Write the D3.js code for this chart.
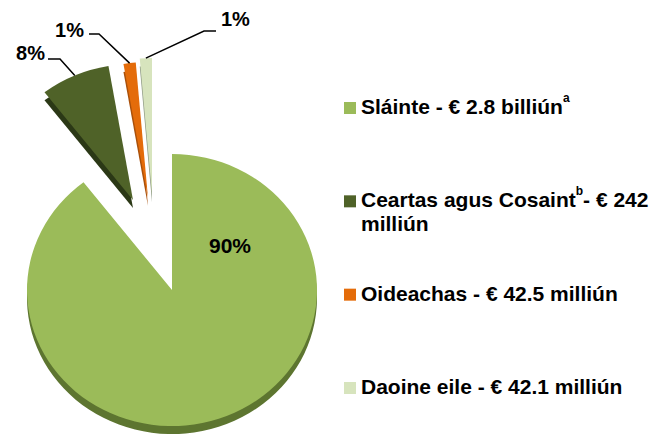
<!DOCTYPE html>
<html>
<head>
<meta charset="utf-8">
<script src="https://cdn.jsdelivr.net/npm/d3@7"></script>
<style>
  body { margin: 0; background: #fff; }
  text { font-family: "Liberation Sans", Arial, sans-serif; font-weight: bold; fill: #000; }
</style>
</head>
<body>
<div id="chart-area"></div>
<script>
// data (amounts in € million)
var categories = ["Sláinte", "Ceartas agus Cosaint", "Oideachas", "Daoine eile"];
var amounts = [2800, 242, 42.5, 42.1];
// legend text, split round the footnote marks
var legendBefore = ["Sláinte - € 2.8 billiún", "Ceartas agus Cosaint", "Oideachas - € 42.5 milliún", "Daoine eile - € 42.1 milliún"];
var legendSup = ["a", "b", "", ""];
var legendAfter = ["", "- € 242", "", ""];
var legendWrap = ["", "milliún", "", ""];

var colors = ["#9bbb59", "#4f6228", "#e46c0a", "#d7e4bd"];
var sideColors = ["#5d7530", "#2b3816", "#a9500a", "#8f9a84"];

var width = 654, height = 437;
var cx = 172, cy = 290, rx = 145, ry = 136, depth = 8;

// how far each slice is pulled out of the pie
var explode = [[0, 0], [-39, -90], [-24, -92], [-20, -96]];

// leader lines: elbow, end, label anchor
var labelLayout = [
    {pos: [230, 253], anchor: "middle", size: 21},
    {elbow: [60, 59], end: [48, 59], pos: [45, 60], anchor: "end", size: 20},
    {elbow: [99, 34], end: [89, 34], pos: [84, 37], anchor: "end", size: 20},
    {elbow: [204, 31], end: [216, 31], pos: [221, 26], anchor: "start", size: 20}
];

var svg = d3.select("#chart-area").append("svg")
    .attr("width", width)
    .attr("height", height);

var pie = d3.pie().sort(null).value(function(d) { return d; });
var slices = pie(amounts);
var total = d3.sum(amounts);
var pct = d3.format(".0%");

var arc = d3.arc().innerRadius(0).outerRadius(rx);

function apex(i) {
    return [cx + explode[i][0], cy + explode[i][1]];
}

// sides first (3D depth), then the tops
svg.append("g").selectAll("path.side")
    .data(slices)
    .enter().append("path")
    .attr("class", "side")
    .attr("transform", function(d, i) {
        var a = apex(i);
        return "translate(" + a[0] + "," + (a[1] + depth) + ") scale(1," + (ry / rx) + ")";
    })
    .attr("fill", function(d, i) { return sideColors[i]; })
    .attr("d", arc);

svg.append("g").selectAll("path.top")
    .data(slices)
    .enter().append("path")
    .attr("class", "top")
    .attr("transform", function(d, i) {
        var a = apex(i);
        return "translate(" + a[0] + "," + a[1] + ") scale(1," + (ry / rx) + ")";
    })
    .attr("fill", function(d, i) { return colors[i]; })
    .attr("d", arc);

// leader lines start on the outer arc of each slice
slices.forEach(function(d, i) {
    var L = labelLayout[i];
    if (L.elbow) {
        var mid = (d.startAngle + d.endAngle) / 2;
        var a = apex(i);
        var p0 = [a[0] + rx * Math.sin(mid), a[1] - ry * Math.cos(mid)];
        svg.append("polyline")
            .attr("points", [p0, L.elbow, L.end].map(function(p) { return p.join(","); }).join(" "))
            .attr("fill", "none")
            .attr("stroke", "#000")
            .attr("stroke-width", 1.5);
    }
    svg.append("text")
        .attr("x", L.pos[0])
        .attr("y", L.pos[1])
        .attr("text-anchor", L.anchor)
        .style("font-size", L.size + "px")
        .text(pct(d.value / total));
});

// legend
var legendY = d3.scaleLinear().domain([0, 3]).range([102, 382]);
var legend = svg.append("g").selectAll("g")
    .data(categories)
    .enter().append("g")
    .attr("transform", function(d, i) { return "translate(344," + legendY(i) + ")"; });

legend.append("rect")
    .attr("width", 12)
    .attr("height", 12)
    .attr("fill", function(d, i) { return colors[i]; });

legend.each(function(d, i) {
    var t = d3.select(this).append("text")
        .attr("x", 17)
        .attr("y", 12)
        .style("font-size", "21px");
    t.append("tspan").text(legendBefore[i]);
    if (legendSup[i]) {
        t.append("tspan")
            .attr("dy", -12)
            .style("font-size", "12px")
            .text(legendSup[i]);
        t.append("tspan")
            .attr("dy", 12)
            .text(legendAfter[i]);
    }
    if (legendWrap[i]) {
        t.append("tspan")
            .attr("x", 17)
            .attr("dy", 24)
            .text(legendWrap[i]);
    }
});
</script>
</body>
</html>
